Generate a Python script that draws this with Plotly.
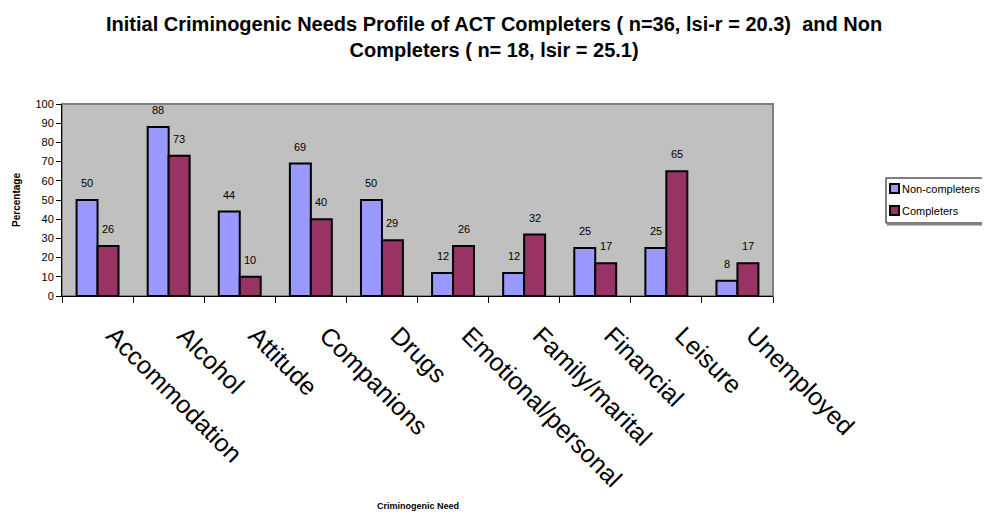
import plotly.graph_objects as go

categories = ["Accommodation", "Alcohol", "Attitude", "Companions", "Drugs",
              "Emotional/personal", "Family/marital", "Financial", "Leisure", "Unemployed"]
non_completers = [50, 88, 44, 69, 50, 12, 12, 25, 25, 8]
completers = [26, 73, 10, 40, 29, 26, 32, 17, 65, 17]
series_names = ["Non-completers", "Completers"]
series_colors = ["#9999FF", "#993366"]

FONT = "Liberation Sans, Arial, sans-serif"

# page offset (body margin) and plot area in screen pixels
OFF = 8
W, H = 990 - OFF, 514 - OFF
L, T, R, B = 62, 104, 773, 296
def px(x):
    return (x - L) / (R - L)
def py(y):
    return (B - y) / (B - T)

fig = go.Figure()
for name, vals, col in zip(series_names, [non_completers, completers], series_colors):
    fig.add_trace(go.Bar(name=name, x=categories, y=vals, showlegend=False,
                         marker=dict(color=col, line=dict(color="black", width=2))))

annotations = []
for vals, shift in ((non_completers, -10.5), (completers, 10.5)):
    for c, v in zip(categories, vals):
        annotations.append(dict(x=c, y=v, xref="x", yref="y", text=str(v), showarrow=False,
                                xshift=shift, yshift=17, yanchor="middle",
                                font=dict(family=FONT, size=11, color="black")))

annotations.append(dict(x=0.5, y=0, xref="paper", yref="paper", yshift=-217,
                        text="<b>Criminogenic Need</b>", showarrow=False, yanchor="bottom",
                        font=dict(family=FONT, size=9, color="black")))

shapes = [dict(type="rect", xref="paper", yref="paper", x0=0, x1=1, y0=0, y1=1,
               line=dict(color="#808080", width=2), layer="below")]

# legend (box, swatches, labels)
shapes.append(dict(type="rect", xref="paper", yref="paper",
                   x0=px(886), x1=px(1000), y0=py(223), y1=py(178),
                   line=dict(color="black", width=1), fillcolor="white", layer="above"))
shapes.append(dict(type="line", xref="paper", yref="paper",
                   x0=px(887), x1=px(1000), y0=py(224.5), y1=py(224.5),
                   line=dict(color="#808080", width=2), layer="above"))
for i, (name, col) in enumerate(zip(series_names, series_colors)):
    cy = 188.5 + 22 * i
    shapes.append(dict(type="rect", xref="paper", yref="paper",
                       x0=px(890), x1=px(899), y0=py(cy + 4.5), y1=py(cy - 4.5),
                       line=dict(color="black", width=2), fillcolor=col, layer="above"))
    annotations.append(dict(x=px(900), y=py(cy), xref="paper", yref="paper", text=name,
                            showarrow=False, xanchor="left", yanchor="middle",
                            font=dict(family=FONT, size=11, color="black")))

fig.update_layout(
    width=W, height=H,
    margin=dict(l=L - OFF, r=W - (R - OFF), t=T - OFF, b=H - (B - OFF), autoexpand=False),
    paper_bgcolor="white", plot_bgcolor="#C0C0C0",
    barmode="group", bargap=0.41, bargroupgap=0,
    title=dict(text="<b>Initial Criminogenic Needs Profile of ACT Completers ( n=36, lsi-r = 20.3)  and Non<br>Completers ( n= 18, lsir = 25.1)</b>",
               x=0.495, xref="container", xanchor="center", y=0.955, yanchor="top",
               font=dict(family=FONT, size=20, color="black")),
    font=dict(family=FONT, color="black"),
    showlegend=False,
    annotations=annotations,
    shapes=shapes,
)

fig.update_xaxes(
    showline=True, linecolor="black", linewidth=1,
    ticks="outside", tickson="boundaries", ticklen=6, tickcolor="black",
    tickangle=45, ticklabelstandoff=14, ticklabelshift=16,
    tickfont=dict(family=FONT, size=25, color="black"),
    showgrid=False, zeroline=False, automargin=False,
)
fig.update_yaxes(
    range=[0, 100], dtick=10, showline=True, linecolor="black", linewidth=1,
    ticks="outside", ticklen=5, tickcolor="black",
    tickfont=dict(family=FONT, size=11, color="black"),
    title=dict(text="<b>Percentage</b>", font=dict(family=FONT, size=10, color="black"), standoff=12),
    showgrid=False, zeroline=False, automargin=False,
)

fig.write_html("out.html")
